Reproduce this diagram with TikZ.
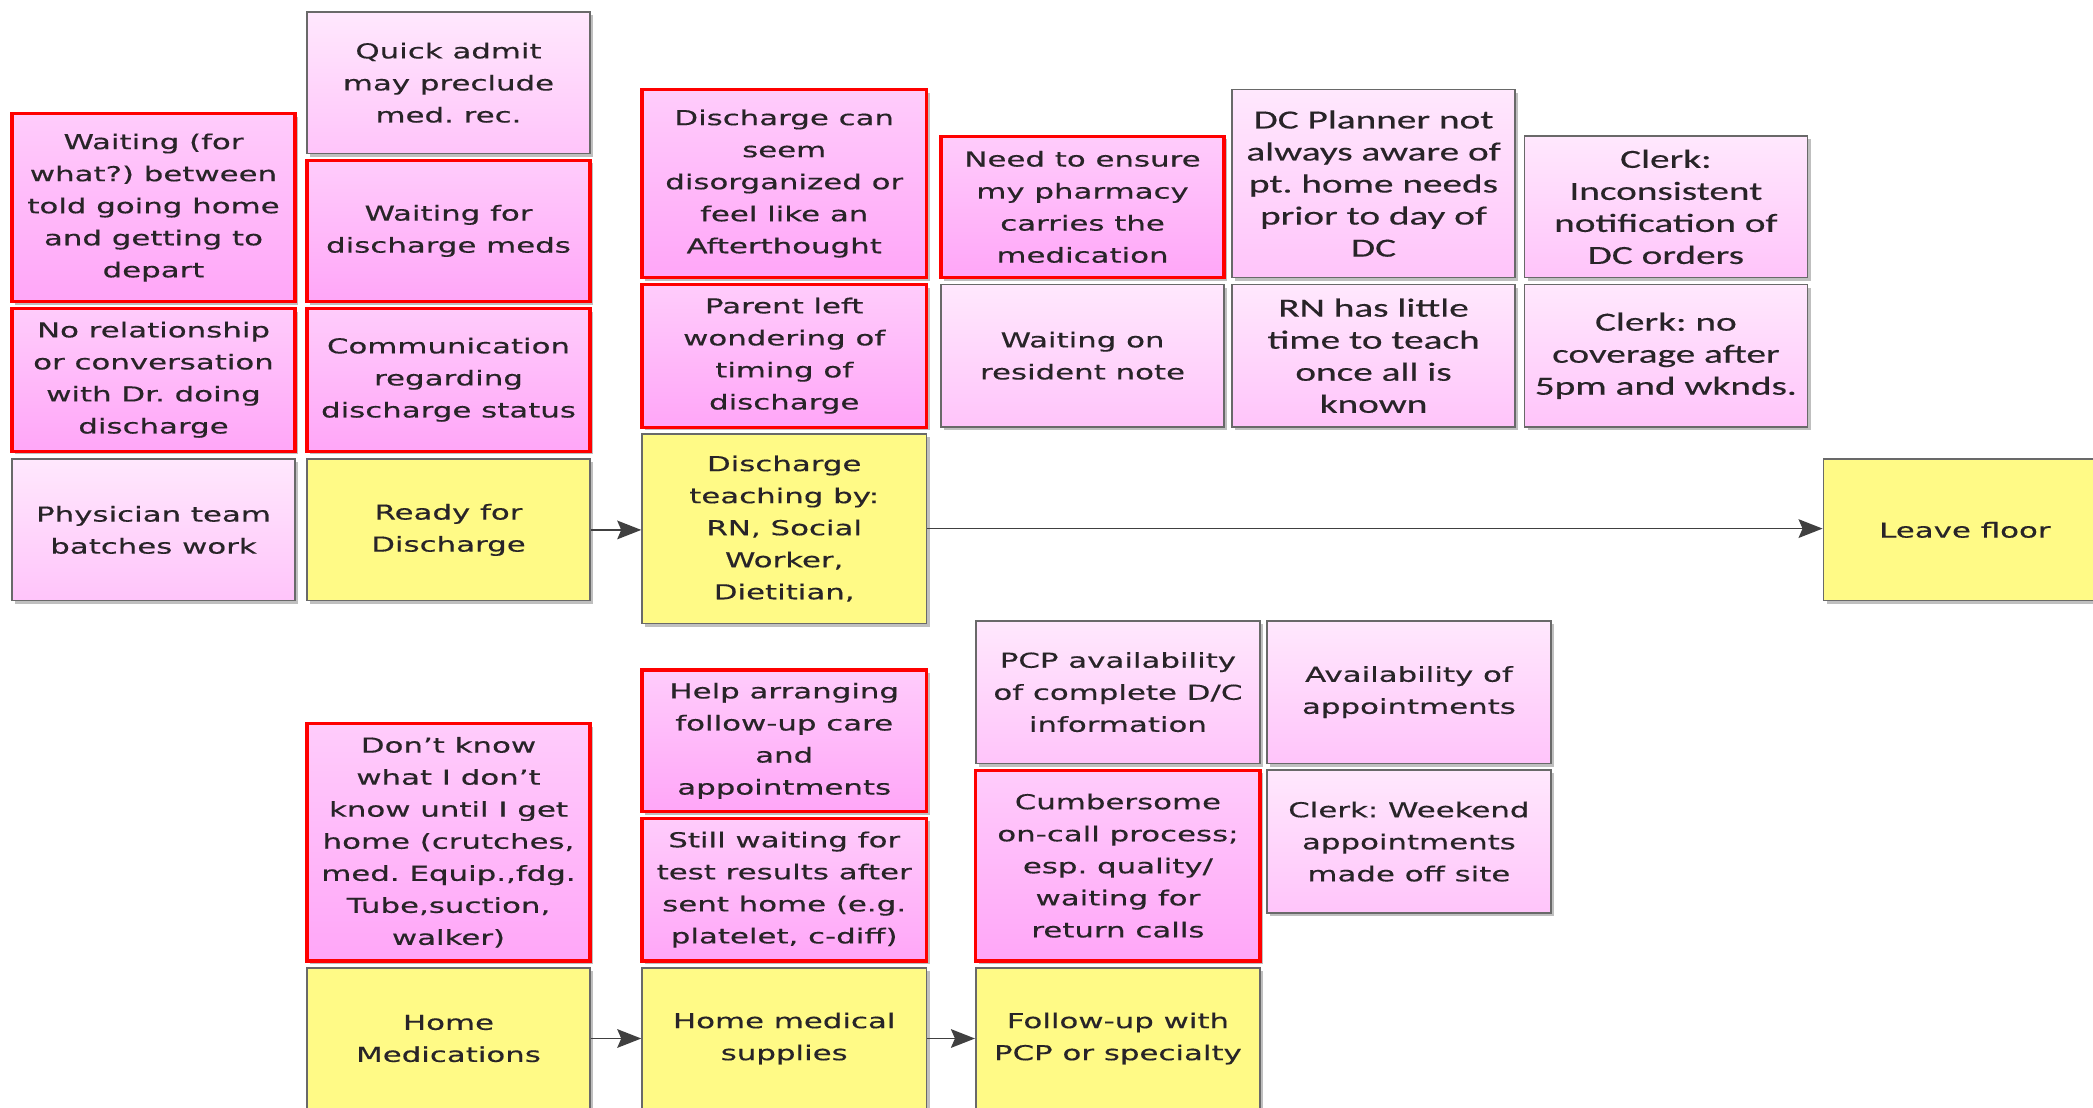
\documentclass[tikz,border=0pt]{standalone}
\usepackage{fontspec}
\usetikzlibrary{arrows.meta,shadows}

% Wide sans faces used in the sticky notes
\newfontfamily\wideV[FakeStretch=1.5,FakeBold=0.4]{DejaVu Sans}
\newfontfamily\wideC[FakeStretch=1.5,FakeBold=0.4]{Carlito}
\newcommand\noteV{\wideV\fontsize{7.7pt}{12pt}\selectfont\frenchspacing}
\newcommand\noteC{\wideC\fontsize{9.8pt}{12pt}\selectfont\frenchspacing}

\definecolor{probTop}{RGB}{255,204,251}
\definecolor{probBot}{RGB}{255,166,248}
\definecolor{noteTop}{RGB}{255,232,253}
\definecolor{noteBot}{RGB}{255,196,250}
\definecolor{stepFill}{RGB}{255,250,134}
\definecolor{edgeGray}{RGB}{105,105,105}
\definecolor{inkGray}{RGB}{40,36,40}

\tikzset{
  card/.style={rectangle, inner sep=2pt, align=center, text=inkGray,
    drop shadow={shadow xshift=1.2pt, shadow yshift=-1.2pt, opacity=0.25, fill=black}},
  sz/.style 2 args={minimum width=#1pt, minimum height=#2pt},
  prob/.style={card, draw=red, line width=1.2pt, top color=probTop, bottom color=probBot, font=\noteV},
  note/.style={card, draw=edgeGray, line width=0.6pt, top color=noteTop, bottom color=noteBot, font=\noteV},
  cnote/.style={note, font=\noteC},
  stepbox/.style={card, draw=edgeGray, line width=0.6pt, fill=stepFill, font=\noteV},
  flow/.style={draw=black!75, line width=0.6pt, -{Stealth[length=9pt, width=7pt, inset=1.5pt]}}
}

\begin{document}
\begin{tikzpicture}[x=0.5pt, y=-0.5pt]
\clip (0,0) rectangle (1568,830);
\fill[white] (0,0) rectangle (1568,830);

% ---- upper lane: discharge day ----
% column 1
\node[prob, sz={106}{70.5}] (wait) at (115,155.5) {Waiting (for\\what?) between\\told going home\\and getting to\\depart};
\node[prob, sz={106}{53.5}] (norel) at (115,284.5) {No relationship\\or conversation\\with Dr. doing\\discharge};
\node[note, sz={106}{53}] (phys) at (115,397) {Physician team\\batches work};

% column 2
\node[note, sz={106}{53}] (quick) at (336,62) {Quick admit\\may preclude\\med. rec.};
\node[prob, sz={106}{53}] (meds) at (336,173) {Waiting for\\discharge meds};
\node[prob, sz={106}{53.5}] (comm) at (336,284.5) {Communication\\regarding\\discharge status};
\node[stepbox, sz={106}{53}] (ready) at (336,397) {Ready for\\Discharge};

% column 3
\node[prob, sz={106.5}{70.5}] (seem) at (587.5,137.5) {Discharge can\\seem\\disorganized or\\feel like an\\Afterthought};
\node[prob, sz={106.5}{53.5}] (parent) at (587.5,266.5) {Parent left\\wondering of\\timing of\\discharge};
\node[stepbox, sz={106.5}{71}] (teach) at (587.5,396) {Discharge\\teaching by:\\RN, Social\\Worker,\\Dietitian,};

% column 4
\node[prob, sz={106}{53}] (pharm) at (811,155) {Need to ensure\\my pharmacy\\carries the\\medication};
\node[note, sz={106}{53.5}] (resnote) at (811,266.5) {Waiting on\\resident note};

% column 5
\node[cnote, sz={106}{70.5}] (planner) at (1029,137.5) {DC Planner not\\always aware of\\pt. home needs\\prior to day of\\DC};
\node[cnote, sz={106}{53.5}] (rnlittle) at (1029,266.5) {RN has little\\time to teach\\once all is\\known};

% column 6
\node[cnote, sz={106}{53}] (clerkA) at (1248,155) {Clerk:\\Inconsistent\\notification of\\DC orders};
\node[cnote, sz={106}{53.5}] (clerkB) at (1248,266.5) {Clerk: no\\coverage after\\5pm and wknds.};

% end of lane
\node[stepbox, sz={106}{53}] (leave) at (1472,397) {Leave floor};

\draw[flow] (ready.east) -- (ready.east -| teach.west);
\draw[flow] (teach.east) -- (teach.east -| leave.west);

% ---- lower lane: after going home ----
% column 2
\node[prob, sz={106}{89}] (dontknow) at (336,631) {Don’t know\\what I don’t\\know until I get\\home (crutches,\\med. Equip.,fdg.\\Tube,suction,\\walker)};
\node[stepbox, sz={106}{53}] (homemeds) at (336,778) {Home\\Medications};

% column 3
\node[prob, sz={106.5}{53}] (help) at (587.5,555) {Help arranging\\follow-up care\\and\\appointments};
\node[prob, sz={106.5}{53.5}] (still) at (587.5,666.5) {Still waiting for\\test results after\\sent home (e.g.\\platelet, c-diff)};
\node[stepbox, sz={106.5}{53}] (supplies) at (587.5,778) {Home medical\\supplies};

% column 4
\node[note, sz={106.5}{53.5}] (pcp) at (837.5,518.5) {PCP availability\\of complete D/C\\information};
\node[prob, sz={106.5}{71.5}] (cumber) at (837.5,648.5) {Cumbersome\\on-call process;\\esp. quality/\\waiting for\\return calls};
\node[stepbox, sz={106.5}{53}] (followup) at (837.5,778) {Follow-up with\\PCP or specialty};

% column 5
\node[note, sz={106.5}{53.5}] (avail) at (1055.5,518.5) {Availability of\\appointments};
\node[note, sz={106.5}{53.5}] (weekend) at (1055.5,630.5) {Clerk: Weekend\\appointments\\made off site};

\draw[flow] (homemeds.east) -- (homemeds.east -| supplies.west);
\draw[flow] (supplies.east) -- (supplies.east -| followup.west);
\end{tikzpicture}
\end{document}
